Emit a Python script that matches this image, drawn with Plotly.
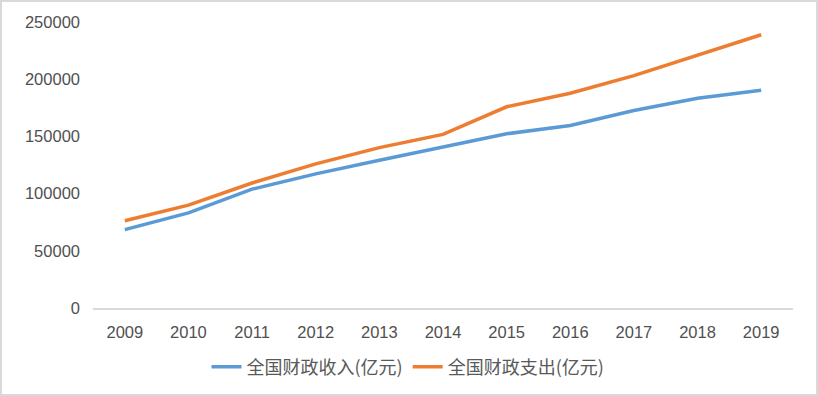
import plotly.graph_objects as go

years = ["2009", "2010", "2011", "2012", "2013", "2014", "2015", "2016", "2017", "2018", "2019"]
revenue = [68518, 83102, 103874, 117254, 129210, 140370, 152269, 159605, 172593, 183360, 190390]
expenditure = [76300, 89874, 109248, 125953, 140212, 151786, 175878, 187755, 203085, 220904, 238874]
rev_name = "全国财政收入(亿元)"
exp_name = "全国财政支出(亿元)"

W, H = 818, 396
L, R, T, B = 93, 25, 22, 88
pw, ph = W - L - R, H - T - B

fig = go.Figure()
fig.add_trace(go.Scatter(x=years, y=revenue, mode="lines", name=rev_name,
                         line=dict(color="#5B9BD5", width=3.5)))
fig.add_trace(go.Scatter(x=years, y=expenditure, mode="lines", name=exp_name,
                         line=dict(color="#ED7D31", width=3.5)))

tickfont = dict(family="Liberation Sans, Arial, sans-serif", size=16.5, color="#505050")
fig.update_layout(
    width=W, height=H,
    margin=dict(l=L, r=R, t=T, b=B, autoexpand=False),
    paper_bgcolor="white", plot_bgcolor="white",
    showlegend=True,
    legend=dict(orientation="h", x=(408 - L) / pw, xanchor="center",
                y=(H - B - 367) / ph, yanchor="middle",
                font=dict(family="Noto Sans CJK SC, sans-serif", size=18, color="#595959"),
                itemwidth=30, tracegroupgap=0),
    xaxis=dict(type="category", range=[-0.5, 10.5], showgrid=False, zeroline=False,
               showline=True, linecolor="#D9D9D9", linewidth=1.5, ticks="",
               tickfont=tickfont, ticklabelstandoff=8, automargin=False),
    yaxis=dict(range=[0, 250000], tickvals=[0, 50000, 100000, 150000, 200000, 250000],
               ticktext=["0", "50000", "100000", "150000", "200000", "250000"],
               showgrid=False, zeroline=False, showline=False, ticks="",
               tickfont=tickfont, ticklabelstandoff=12, automargin=False),
)
fig.add_shape(type="rect", xref="paper", yref="paper",
              x0=(1 - L) / pw, x1=(W - 1 - L) / pw,
              y0=(H - B - (H - 1)) / ph, y1=(H - B - 1) / ph,
              line=dict(color="#D9D9D9", width=2), layer="above")
fig.write_html("out.html", config={"displayModeBar": False},
               post_script="document.body.style.margin='0';document.body.style.overflow='hidden';")
